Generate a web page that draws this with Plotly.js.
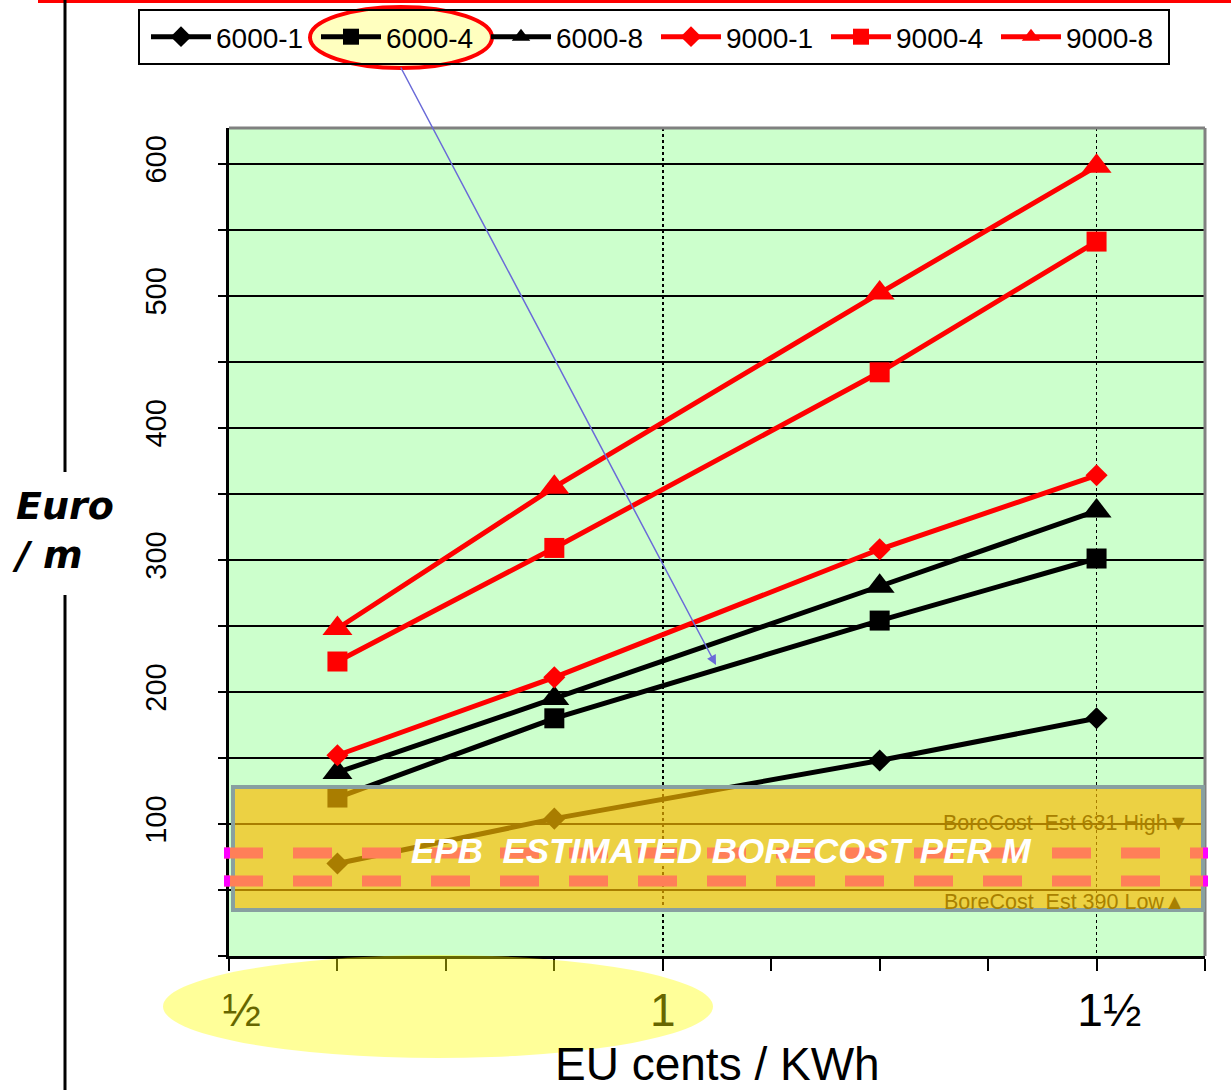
<!DOCTYPE html>
<html>
<head>
<meta charset="utf-8">
<script src="https://cdn.plot.ly/plotly-3.0.1.min.js"></script>
<style>html,body{margin:0;padding:0;background:#fff;}#chart{width:1231px;height:1090px;}</style>
</head>
<body>
<div id="chart"></div>
<script>
// ---- data ----
const priceCents = [0.625, 0.875, 1.25, 1.5];
const s6000_1 = [70, 104, 148, 180];
const s6000_4 = [120, 180, 254, 301];
const s6000_8 = [139, 195, 280, 337];
const s9000_1 = [152, 211, 308, 364];
const s9000_4 = [223, 309, 442, 541];
const s9000_8 = [248, 355, 502, 598];
const seriesNames = ['6000-1', '6000-4', '6000-8', '9000-1', '9000-4', '9000-8'];
const yTickVals = [0, 50, 100, 150, 200, 250, 300, 350, 400, 450, 500, 550, 600];
const yTickText = ['', '', '100', '', '200', '', '300', '', '400', '', '500', '', '600'];
const xTickVals = [0.5, 1, 1.5];
const xTickText = ['\u00a0\u00a0\u00bd', '1', '\u00a0\u00a01\u00bd'];
const boreLow = 56.8, boreHigh = 78;

// ---- layout helpers (pixel -> paper) ----
const L = 229, Rpx = 1205, T = 128, B = 956;
const px = x => (x - L) / (Rpx - L);
const py = y => (B - y) / (B - T);

const sans = '"Liberation Sans", Arial, sans-serif';
const heavy = '"DejaVu Sans", "Liberation Sans", Arial, sans-serif';

function tr(y, name, color, symbol, size) {
  return {
    x: priceCents, y: y, name: name, type: 'scatter', mode: 'lines+markers',
    line: {color: color, width: 5},
    marker: {color: color, symbol: symbol, size: size}
  };
}
const data = [
  tr(s6000_1, seriesNames[0], '#000000', 'diamond', 17),
  tr(s6000_4, seriesNames[1], '#000000', 'square', 20),
  tr(s6000_8, seriesNames[2], '#000000', 'triangle-up', 26),
  tr(s9000_1, seriesNames[3], '#FF0000', 'diamond', 17),
  tr(s9000_4, seriesNames[4], '#FF0000', 'square', 20),
  tr(s9000_8, seriesNames[5], '#FF0000', 'triangle-up', 26)
];

const shapes = [
  // plot frame top/right (grey)
  {type:'line', xref:'paper', yref:'paper', x0:0, x1:1, y0:1, y1:1, line:{color:'#808080', width:3}},
  {type:'line', xref:'paper', yref:'paper', x0:1, x1:1, y0:0, y1:1, line:{color:'#808080', width:3}},
  // estimated bore cost box
  {type:'rect', xref:'paper', yref:'paper', x0:px(233), x1:px(1203), y0:py(910), y1:py(787),
   fillcolor:'rgba(252,186,0,0.67)', line:{color:'#88A0A0', width:4}, layer:'above'},
  // dashed bore-cost lines
  {type:'line', xref:'paper', yref:'y', x0:px(224), x1:px(1207), y0:boreHigh, y1:boreHigh,
   line:{color:'#FF7F58', width:11, dash:'39px,30px'}, layer:'above'},
  {type:'line', xref:'paper', yref:'y', x0:px(224), x1:px(1207), y0:boreLow, y1:boreLow,
   line:{color:'#FF7F58', width:11, dash:'39px,30px'}, layer:'above'},
  // magenta end caps
  {type:'line', xref:'paper', yref:'y', x0:px(224), x1:px(230), y0:boreHigh, y1:boreHigh, line:{color:'#FF00FF', width:11}, layer:'above'},
  {type:'line', xref:'paper', yref:'y', x0:px(224), x1:px(230), y0:boreLow, y1:boreLow, line:{color:'#FF00FF', width:11}, layer:'above'},
  {type:'line', xref:'paper', yref:'y', x0:px(1203), x1:px(1208), y0:boreHigh, y1:boreHigh, line:{color:'#FF00FF', width:11}, layer:'above'},
  {type:'line', xref:'paper', yref:'y', x0:px(1203), x1:px(1208), y0:boreLow, y1:boreLow, line:{color:'#FF00FF', width:11}, layer:'above'},
  // yellow highlight ellipse at bottom
  {type:'circle', xref:'paper', yref:'paper', x0:px(163), x1:px(713), y0:py(1058), y1:py(955),
   fillcolor:'rgba(255,255,0,0.4)', line:{width:0}, layer:'above'},
  // top red line
  {type:'line', xref:'paper', yref:'paper', x0:px(38), x1:px(1231), y0:py(1), y1:py(1), line:{color:'#FF0000', width:4}},
  // left black vertical line (broken by label)
  {type:'line', xref:'paper', yref:'paper', x0:px(65), x1:px(65), y0:py(0), y1:py(472), line:{color:'#000000', width:3}},
  {type:'line', xref:'paper', yref:'paper', x0:px(65), x1:px(65), y0:py(595), y1:py(1090), line:{color:'#000000', width:3}},
  // legend highlight ellipse
  {type:'circle', xref:'paper', yref:'paper', x0:px(310), x1:px(492), y0:py(68), y1:py(7),
   fillcolor:'rgba(255,255,0,0.25)', line:{color:'#FF0000', width:4}, layer:'above'},
  // legend frame
  {type:'rect', xref:'paper', yref:'paper', x0:px(139), x1:px(1169), y0:py(64), y1:py(10),
   fillcolor:'rgba(0,0,0,0)', line:{color:'#000000', width:2}, layer:'above'}
];

const annotations = [
  {xref:'paper', yref:'paper', x:px(721), y:py(850), text:'<b><i>EPB  ESTIMATED BORECOST PER M</i></b>',
   showarrow:false, font:{family:sans, size:35, color:'#FFFFFF'}, xanchor:'center', yanchor:'middle'},
  {xref:'paper', yref:'paper', x:px(1191), y:py(823), text:'BoreCost  Est 631 High\u25BC',
   showarrow:false, font:{family:sans, size:21.5, color:'#A88000'}, xanchor:'right', yanchor:'middle'},
  {xref:'paper', yref:'paper', x:px(1187), y:py(902), text:'BoreCost  Est 390 Low\u25B2',
   showarrow:false, font:{family:sans, size:21.5, color:'#A88000'}, xanchor:'right', yanchor:'middle'},
  {xref:'paper', yref:'paper', x:px(10), y:py(530), text:'<b><i>Euro<br>/ m</i></b>', align:'left',
   showarrow:false, font:{family:heavy, size:38, color:'#000000'}, xanchor:'left', yanchor:'middle'},
  {xref:'paper', yref:'paper', x:px(717), y:py(1064), text:'EU cents / KWh',
   showarrow:false, font:{family:sans, size:46, color:'#000000'}, xanchor:'center', yanchor:'middle'},
  {xref:'paper', yref:'paper', x:px(716), y:py(665), ax:-316, ay:-599, axref:'pixel', ayref:'pixel',
   text:'', showarrow:true, arrowhead:2, arrowsize:1.3, arrowwidth:1.5, arrowcolor:'#6A6AD8'}
];

const layout = {
  width: 1231, height: 1090,
  margin: {l: L, r: 1231 - Rpx, t: T, b: 1090 - B, pad: 0, autoexpand: false},
  paper_bgcolor: '#FFFFFF', plot_bgcolor: '#CCFFCC',
  showlegend: true,
  legend: {orientation:'h', x:px(146), y:py(37), xanchor:'left', yanchor:'middle',
    bgcolor:'rgba(0,0,0,0)', borderwidth:0, font:{family:sans, size:28, color:'#000000'},
    itemwidth:60, entrywidth:95, entrywidthmode:'pixels', tracegroupgap:0},
  xaxis: {range:[0.5, 1.625], tickmode:'array', tickvals:xTickVals, ticktext:xTickText,
    ticks:'outside', ticklen:12, tickwidth:2, tickcolor:'#000000',
    showgrid:true, gridcolor:'#000000', griddash:'dot', gridwidth:1.5,
    showline:true, linecolor:'#000000', linewidth:3, zeroline:false, automargin:false,
    tickfont:{family:sans, size:46, color:'#000000'},
    minor:{tick0:0.5, dtick:0.125, ticks:'outside', ticklen:12, tickwidth:2, tickcolor:'#000000', showgrid:false},
    fixedrange:true},
  yaxis: {range:[0, 627], tickmode:'array', tickvals:yTickVals, ticktext:yTickText,
    ticks:'outside', ticklen:8, tickwidth:2, tickcolor:'#000000', tickangle:-90,
    showgrid:true, gridcolor:'#000000', gridwidth:2,
    showline:true, linecolor:'#000000', linewidth:3, zeroline:false, automargin:false,
    tickfont:{family:sans, size:29, color:'#000000'}, ticklabelstandoff:40,
    fixedrange:true},
  shapes: shapes,
  annotations: annotations
};

Plotly.newPlot('chart', data, layout, {displayModeBar:false, staticPlot:true});
</script>
</body>
</html>
